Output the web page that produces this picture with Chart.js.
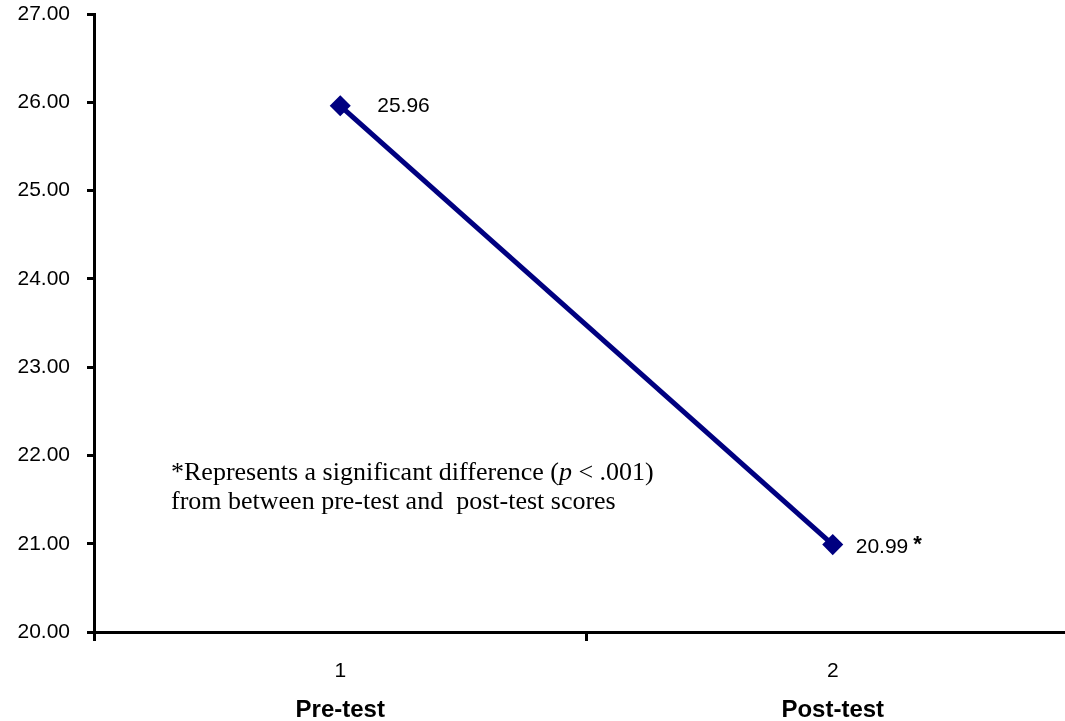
<!DOCTYPE html>
<html>
<head>
<meta charset="utf-8">
<script src="https://cdn.jsdelivr.net/npm/chart.js@4.4.1/dist/chart.umd.min.js"></script>
<style>
  html, body { margin: 0; padding: 0; background: #fff; overflow: hidden; }
  #wrap { width: 1100px; height: 721px; position: relative; }
</style>
</head>
<body>
<div id="wrap"><canvas id="c" width="1100" height="721"></canvas></div>
<script>
// Test occasions and mean scores
const categories = ['1', '2'];
const phaseLabels = ['Pre-test', 'Post-test'];
const meanScores = [25.96, 20.99];
const significanceMarks = ['', '*'];
const yMin = 20;
const yMax = 27;
const yStep = 1;

const NAVY = '#000080';
const SANS = '"Liberation Sans", Arial, sans-serif';
const SERIF = '"Liberation Serif", "Times New Roman", serif';

// Value labels next to each point, with the significance star
const valueLabels = {
  id: 'valueLabels',
  afterDatasetsDraw(chart) {
    const ctx = chart.ctx;
    const meta = chart.getDatasetMeta(0);
    const dx = [37, 23];
    ctx.save();
    ctx.fillStyle = '#000';
    ctx.textAlign = 'left';
    ctx.textBaseline = 'middle';
    meta.data.forEach((pt, i) => {
      const txt = meanScores[i].toFixed(2);
      ctx.font = '21px ' + SANS;
      const x = pt.x + dx[i];
      const y = pt.y + (i === 1 ? 3 : 0);
      ctx.fillText(txt, x, y);
      if (significanceMarks[i]) {
        const w = ctx.measureText(txt).width;
        ctx.font = 'bold 22px ' + SANS;
        ctx.fillText(significanceMarks[i], x + w + 5, y - 3);
      }
    });
    ctx.restore();
  }
};

// Footnote about the significance test
const footnote = {
  id: 'footnote',
  afterDraw(chart) {
    const ctx = chart.ctx;
    const left = chart.chartArea.left + 77;
    ctx.save();
    ctx.fillStyle = '#000';
    ctx.textAlign = 'left';
    ctx.textBaseline = 'alphabetic';
    const parts = [
      ['*Represents a significant difference (', ''],
      ['p', 'italic '],
      [' < .001)', '']
    ];
    let x = left;
    parts.forEach(([t, style]) => {
      ctx.font = style + '26px ' + SERIF;
      ctx.fillText(t, x, 480);
      x += ctx.measureText(t).width;
    });
    ctx.font = '26px ' + SERIF;
    ctx.fillText('from between pre-test and  post-test scores', left, 509);
    ctx.restore();
  }
};

new Chart(document.getElementById('c'), {
  type: 'line',
  data: {
    labels: categories,
    datasets: [{
      data: meanScores,
      borderColor: NAVY,
      backgroundColor: NAVY,
      borderWidth: 5,
      pointStyle: 'rectRot',
      pointRadius: 7,
      pointHoverRadius: 7,
      tension: 0
    }]
  },
  options: {
    responsive: false,
    animation: false,
    events: [],
    layout: { padding: { top: 14, right: 21, left: 0, bottom: 0 } },
    plugins: { legend: { display: false }, tooltip: { enabled: false } },
    scales: {
      x: {
        type: 'category',
        weight: 0,
        offset: true,
        grid: {
          offset: true,
          drawOnChartArea: false,
          drawTicks: true,
          tickLength: 9,
          tickWidth: 3,
          tickColor: '#000'
        },
        border: { display: true, color: '#000', width: 3 },
        ticks: { color: '#000', font: { family: SANS, size: 21 }, padding: 18, maxRotation: 0 },
        afterFit(s) { s.height = 60; s.paddingLeft = 0; s.paddingRight = 0; }
      },
      x2: {
        type: 'category',
        axis: 'x',
        position: 'bottom',
        weight: 1,
        labels: phaseLabels,
        offset: true,
        grid: { display: false, drawTicks: false },
        border: { display: false },
        ticks: { color: '#000', font: { family: SANS, size: 24, weight: 'bold' }, padding: 4, maxRotation: 0 },
        afterFit(s) { s.height = 29; s.paddingLeft = 0; s.paddingRight = 0; }
      },
      y: {
        min: yMin,
        max: yMax,
        grid: {
          drawOnChartArea: false,
          drawTicks: true,
          tickLength: 7,
          tickWidth: 3,
          tickColor: '#000'
        },
        border: { display: true, color: '#000', width: 3 },
        ticks: {
          stepSize: yStep,
          color: '#000',
          font: { family: SANS, size: 21 },
          padding: 17,
          callback: v => Number(v).toFixed(2)
        },
        afterFit(s) { s.width = 94; s.paddingTop = 0; s.paddingBottom = 0; }
      }
    }
  },
  plugins: [valueLabels, footnote]
});
</script>
</body>
</html>
